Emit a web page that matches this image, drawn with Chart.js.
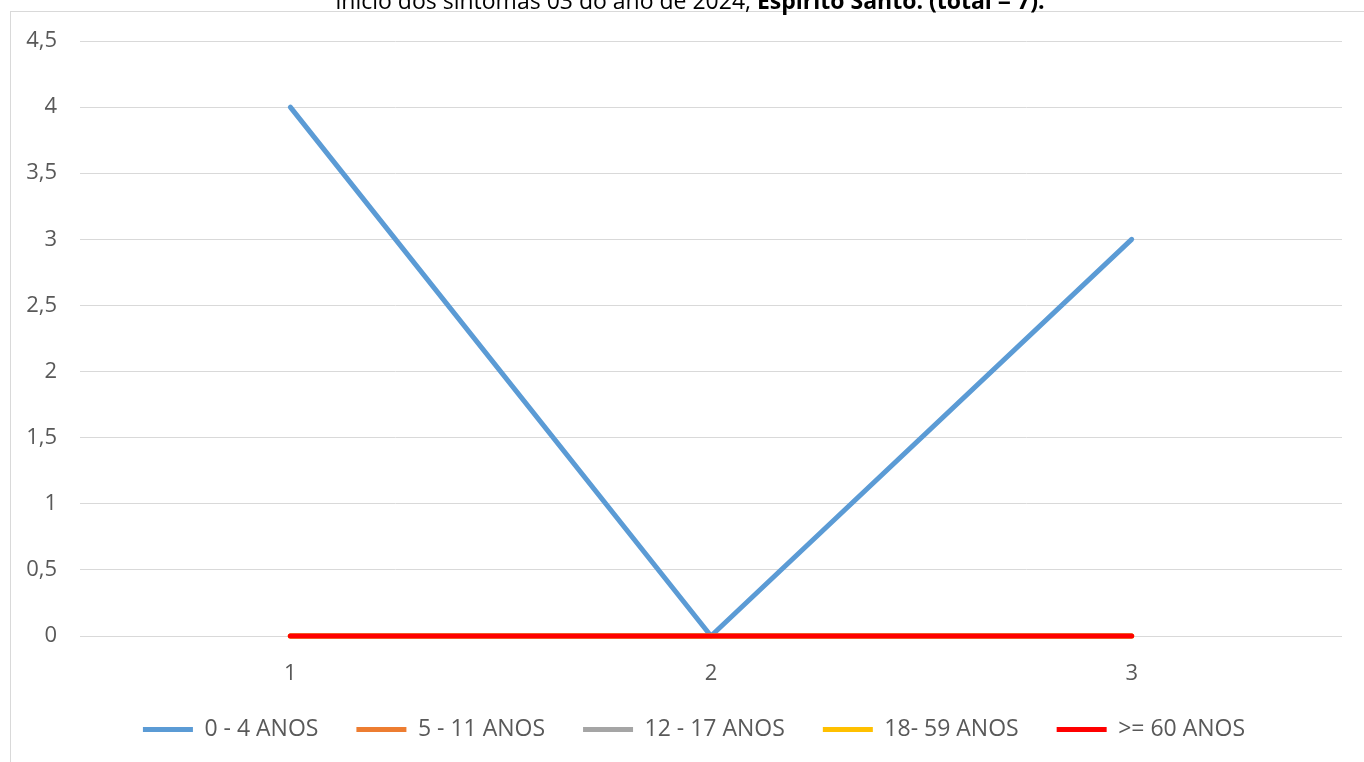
<!DOCTYPE html>
<html>
<head>
<meta charset="utf-8">
<script src="https://cdn.jsdelivr.net/npm/chart.js@4.4.1/dist/chart.umd.min.js"></script>
<style>
  html, body { margin: 0; padding: 0; background: #fff; }
  #wrap { position: relative; width: 1364px; height: 762px; }
</style>
</head>
<body>
<div id="wrap"><canvas id="chart" width="1364" height="762"></canvas></div>
<script>
// data
const titleStart = "início dos sintomas 03 do ano de 2024, ";
const titleBold = "Espírito Santo. (total = 7).";
const categories = ["1", "2", "3"];
const seriesNames = ["0 - 4 ANOS", "5 - 11 ANOS", "12 - 17 ANOS", "18- 59 ANOS", ">= 60 ANOS"];
const age0to4 = [4, 0, 3];
const age5to11 = [0, 0, 0];
const age12to17 = [0, 0, 0];
const age18to59 = [0, 0, 0];
const age60plus = [0, 0, 0];
const seriesColors = ["#5b9bd5", "#ed7d31", "#a5a5a5", "#ffc000", "#ff0000"];

const FONT = "'Open Sans', Lato, sans-serif";
const TEXT = "#595959";
const FS = 22;

// outer frame + title (the title is cut by the top edge in the source)
const frameAndTitle = {
    id: "frameAndTitle",
    afterLayout(chart) {
        // legend in the source is centred on the frame, not on the plot
        chart.legend.left += 23;
        chart.legend.right += 23;
    },
    beforeDraw(chart) {
        const ctx = chart.ctx;
        ctx.save();
        ctx.strokeStyle = "#d9d9d9";
        ctx.lineWidth = 1;
        ctx.strokeRect(10.5, 11.5, 1400, 800);
        ctx.fillStyle = "#000";
        ctx.textBaseline = "alphabetic";
        ctx.textAlign = "left";
        ctx.font = "23px " + FONT;
        const w1 = ctx.measureText(titleStart).width;
        ctx.font = "bold 23px " + FONT;
        const w2 = ctx.measureText(titleBold).width;
        const x0 = 690 - (w1 + w2) / 2;
        ctx.font = "23px " + FONT;
        ctx.fillText(titleStart, x0, 9);
        ctx.font = "bold 23px " + FONT;
        ctx.fillText(titleBold, x0 + w1, 9);
        ctx.restore();
    }
};

const allSeries = [age0to4, age5to11, age12to17, age18to59, age60plus];

const datasets = allSeries.map((vals, i) => ({
    label: seriesNames[i],
    data: vals,
    borderColor: seriesColors[i],
    backgroundColor: seriesColors[i],
    borderWidth: 5,
    borderCapStyle: "round",
    borderJoinStyle: "round",
    pointRadius: 0,
    pointHoverRadius: 0,
    fill: false,
    clip: false,
    tension: 0,
    order: allSeries.length - i
}));

new Chart(document.getElementById("chart"), {
    type: "line",
    data: { labels: categories, datasets: datasets },
    options: {
        responsive: false,
        animation: false,
        layout: { padding: { top: 41, right: 22, left: 0, bottom: 11 } },
        scales: {
            x: {
                offset: true,
                grid: { display: false, drawTicks: false },
                border: { display: false },
                ticks: { color: TEXT, font: { family: FONT, size: FS }, padding: 25 },
                afterFit(scale) { scale.height = 44; }
            },
            y: {
                min: 0,
                max: 4.5,
                ticks: {
                    stepSize: 0.5,
                    color: TEXT,
                    font: { family: FONT, size: FS },
                    padding: 23,
                    callback: v => String(v).replace(".", ",")
                },
                grid: { color: "#d9d9d9", drawTicks: false, lineWidth: 1 },
                border: { display: false },
                afterFit(scale) { scale.width = 80; }
            }
        },
        plugins: {
            legend: {
                position: "bottom",
                labels: {
                    usePointStyle: true,
                    pointStyle: "line",
                    pointStyleWidth: 50,
                    color: TEXT,
                    font: { family: FONT, size: 23 },
                    padding: 38,
                    sort: (a, b) => a.datasetIndex - b.datasetIndex
                }
            },
            tooltip: { enabled: false }
        }
    },
    plugins: [frameAndTitle]
});
</script>
</body>
</html>
